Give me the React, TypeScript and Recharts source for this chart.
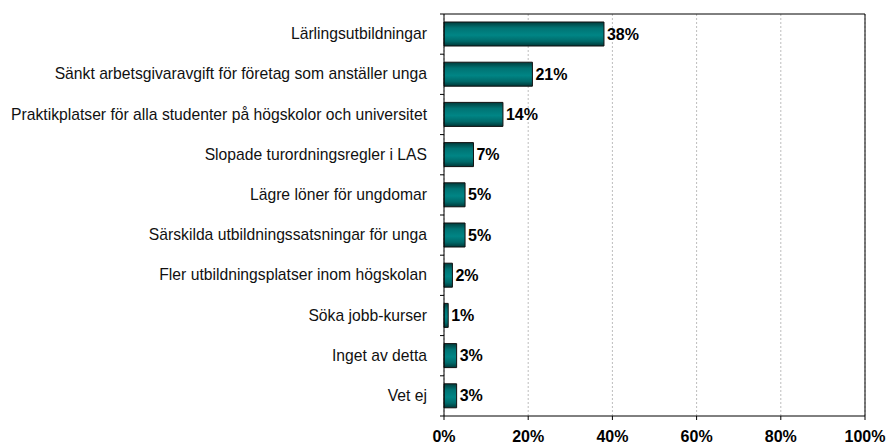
import { BarChart, Bar, XAxis, YAxis, CartesianGrid, LabelList, ReferenceLine } from "recharts";

const categories = [
  "Lärlingsutbildningar",
  "Sänkt arbetsgivaravgift för företag som anställer unga",
  "Praktikplatser för alla studenter på högskolor och universitet",
  "Slopade turordningsregler i LAS",
  "Lägre löner för ungdomar",
  "Särskilda utbildningssatsningar för unga",
  "Fler utbildningsplatser inom högskolan",
  "Söka jobb-kurser",
  "Inget av detta",
  "Vet ej",
];
const shares = [38, 21, 14, 7, 5, 5, 2, 1, 3, 3];
const xTicks = [0, 20, 40, 60, 80, 100];

const data = categories.map((name, i) => ({ name, value: shares[i] }));

const FONT = "'Liberation Sans', Arial, sans-serif";

const CategoryTick = (props: any) => {
  const { x, y, payload, index } = props;
  const half = payload?.offset ?? 20.1;
  return (
    <g>
      <line x1={x - 4} x2={x} y1={y - half} y2={y - half} stroke="#000" />
      {index === categories.length - 1 && (
        <line x1={x - 4} x2={x} y1={y + half} y2={y + half} stroke="#000" />
      )}
      <text x={x - 17} y={y} dy={5} textAnchor="end" fontSize={15.7} fill="#111" fontFamily={FONT}>
        {payload.value}
      </text>
    </g>
  );
};

export default function App() {
  return (
    <div style={{ position: "absolute", left: 0, top: 0, width: 886, height: 448, background: "#fff" }}>
      <BarChart
        width={886}
        height={448}
        data={data}
        layout="vertical"
        margin={{ top: 14, right: 21, bottom: 0, left: 0 }}
      >
        <defs>
          <linearGradient id="teal" x1="0" y1="0" x2="0" y2="1">
            <stop offset="0%" stopColor="#003c3c" />
            <stop offset="25%" stopColor="#007373" />
            <stop offset="55%" stopColor="#008585" />
            <stop offset="80%" stopColor="#006a6a" />
            <stop offset="100%" stopColor="#003838" />
          </linearGradient>
        </defs>
        <CartesianGrid horizontal={false} stroke="#bdbdbd" strokeDasharray="2 2" />
        <XAxis
          type="number"
          domain={[0, 100]}
          ticks={xTicks}
          tickFormatter={(v) => `${v}%`}
          height={32}
          tickSize={4}
          tickMargin={11}
          axisLine={{ stroke: "#000" }}
          tickLine={{ stroke: "#000" }}
          tick={{ fill: "#000", fontSize: 16, fontWeight: "bold", fontFamily: FONT }}
        />
        <YAxis
          type="category"
          dataKey="name"
          width={444}
          tickSize={0}
          tickMargin={0}
          axisLine={{ stroke: "#000" }}
          tickLine={false}
          tick={<CategoryTick />}
          interval={0}
        />
        {/* plot frame: top and right edges */}
        <ReferenceLine x={100} stroke="#000" strokeWidth={1} ifOverflow="visible" />
        <ReferenceLine y={categories[0]} position="start" stroke="#000" strokeWidth={1} ifOverflow="visible" />
        <Bar dataKey="value" barSize={24} fill="url(#teal)" stroke="#111" strokeWidth={1} isAnimationActive={false}>
          <LabelList
            dataKey="value"
            position="right"
            offset={3}
            formatter={(v: any) => `${v}%`}
            style={{ fill: "#000", fontSize: 16, fontWeight: "bold", fontFamily: FONT }}
          />
        </Bar>
      </BarChart>
    </div>
  );
}
